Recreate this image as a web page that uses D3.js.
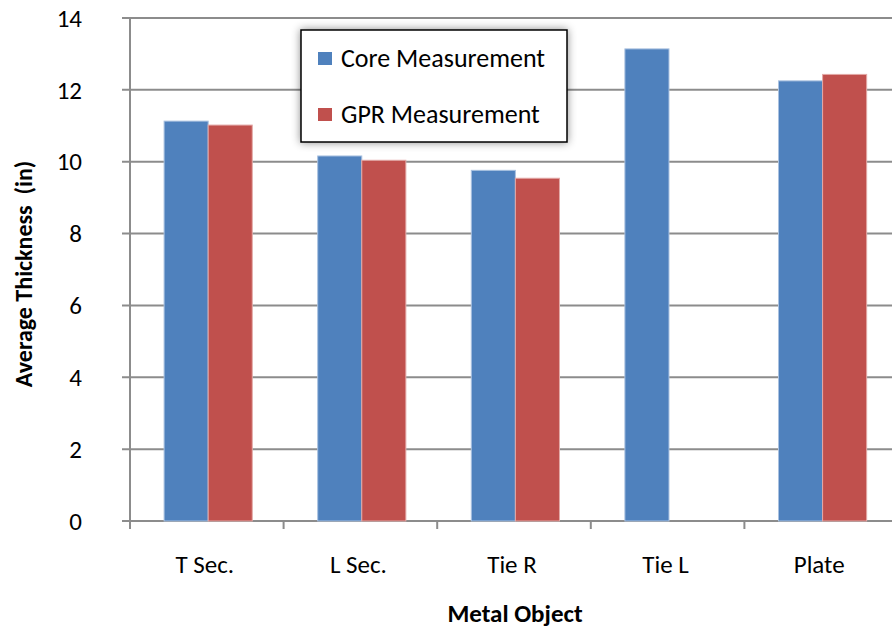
<!DOCTYPE html>
<html>
<head>
<meta charset="utf-8">
<script src="https://cdn.jsdelivr.net/npm/d3@7"></script>
<style>
  body { margin: 0; background: #fff; }
  text { font-family: Carlito, Calibri, Lato, sans-serif; fill: #000; white-space: pre; }
</style>
</head>
<body>
<div id="chart"></div>
<script>
const categories = ["T Sec.", "L Sec.", "Tie R", "Tie L", "Plate"];
const seriesNames = ["Core Measurement", "GPR Measurement"];
const coreValues = [11.13, 10.16, 9.76, 13.14, 12.25];
const gprValues = [11.02, 10.04, 9.54, null, 12.43];
const yTicks = [0, 2, 4, 6, 8, 10, 12, 14];
const colors = ["#4F81BD", "#C0504D"];
const strokes = ["#A9C1E0", "#E3A9A7"];

var W = 892, H = 628;
var margin = { top: 18, right: -6, bottom: 107, left: 130 };
var width = W - margin.left - margin.right;
var height = H - margin.top - margin.bottom;

var svg = d3.select("#chart").append("svg")
    .attr("width", W)
    .attr("height", H);

var defs = svg.append("defs");
var f = defs.append("filter").attr("id", "shadow")
    .attr("x", "-10%").attr("y", "-20%").attr("width", "120%").attr("height", "140%");
f.append("feDropShadow").attr("dx", 0).attr("dy", 0)
    .attr("stdDeviation", 4).attr("flood-color", "#000").attr("flood-opacity", 0.45);

var g = svg.append("g")
    .attr("transform", "translate(" + margin.left + "," + margin.top + ")");

var y = d3.scaleLinear().domain([0, 14]).range([height, 0]);
var x0 = d3.scaleBand().domain(categories).range([0, width]).padding(0);
var bw = x0.bandwidth();
var x1 = d3.scaleBand().domain(seriesNames).range([bw * 0.222, bw * 0.796]).padding(0);

// gridlines
g.append("g")
    .selectAll("line")
    .data(yTicks)
    .join("line")
    .attr("x1", -8)
    .attr("x2", width)
    .attr("y1", d => y(d))
    .attr("y2", d => y(d))
    .attr("stroke", "#8c8c8c")
    .attr("stroke-width", 2);

// y axis labels
g.append("g")
    .selectAll("text")
    .data(yTicks)
    .join("text")
    .attr("x", -48)
    .attr("y", d => y(d))
    .attr("dy", "0.35em")
    .attr("text-anchor", "end")
    .style("font-size", "25px")
    .text(d => d);

// y axis line
g.append("line")
    .attr("x1", 0).attr("x2", 0)
    .attr("y1", 0).attr("y2", height)
    .attr("stroke", "#8c8c8c").attr("stroke-width", 2);

// x ticks
var xTickPos = categories.map(c => x0(c)).concat([width]);
g.append("g")
    .selectAll("line")
    .data(xTickPos)
    .join("line")
    .attr("x1", d => d).attr("x2", d => d)
    .attr("y1", height).attr("y2", height + 8)
    .attr("stroke", "#8c8c8c").attr("stroke-width", 2);

// bars
var rows = categories.map((c, i) => ({ cat: c, vals: [coreValues[i], gprValues[i]] }));
var groups = g.append("g")
    .selectAll("g")
    .data(rows)
    .join("g")
    .attr("transform", d => "translate(" + x0(d.cat) + ",0)");
groups.selectAll("rect")
    .data(d => d.vals.map((v, j) => ({ s: seriesNames[j], v: v, j: j })).filter(e => e.v != null))
    .join("rect")
    .attr("x", d => x1(d.s))
    .attr("width", x1.bandwidth())
    .attr("y", d => y(d.v))
    .attr("height", d => height - y(d.v))
    .attr("fill", d => colors[d.j])
    .attr("stroke", d => strokes[d.j])
    .attr("stroke-width", 1);

// category labels
g.append("g")
    .selectAll("text")
    .data(categories)
    .join("text")
    .attr("x", d => x0(d) + bw / 2 - 2)
    .attr("y", height + 52)
    .attr("text-anchor", "middle")
    .style("font-size", "25px")
    .text(d => d);

// axis titles
svg.append("text")
    .attr("x", 515)
    .attr("y", 622)
    .attr("text-anchor", "middle")
    .style("font-size", "25px")
    .style("font-weight", "bold")
    .text("Metal Object");

svg.append("text")
    .attr("transform", "translate(32,274) rotate(-90)")
    .attr("text-anchor", "middle")
    .style("font-size", "24px")
    .style("font-weight", "bold")
    .text("Average Thickness  (in)");

// legend
var leg = svg.append("g").attr("transform", "translate(301,30)");
leg.append("rect")
    .attr("width", 266).attr("height", 112)
    .attr("fill", "#fff")
    .attr("stroke", "#000").attr("stroke-width", 1.5)
    .attr("filter", "url(#shadow)");
seriesNames.forEach(function (s, i) {
    var ly = 28 + i * 56;
    leg.append("rect")
        .attr("x", 17).attr("y", ly - 6)
        .attr("width", 14).attr("height", 13)
        .attr("fill", colors[i]);
    leg.append("text")
        .attr("x", 40).attr("y", ly)
        .attr("dy", "0.35em")
        .style("font-size", "26px")
        .text(s);
});
</script>
</body>
</html>
